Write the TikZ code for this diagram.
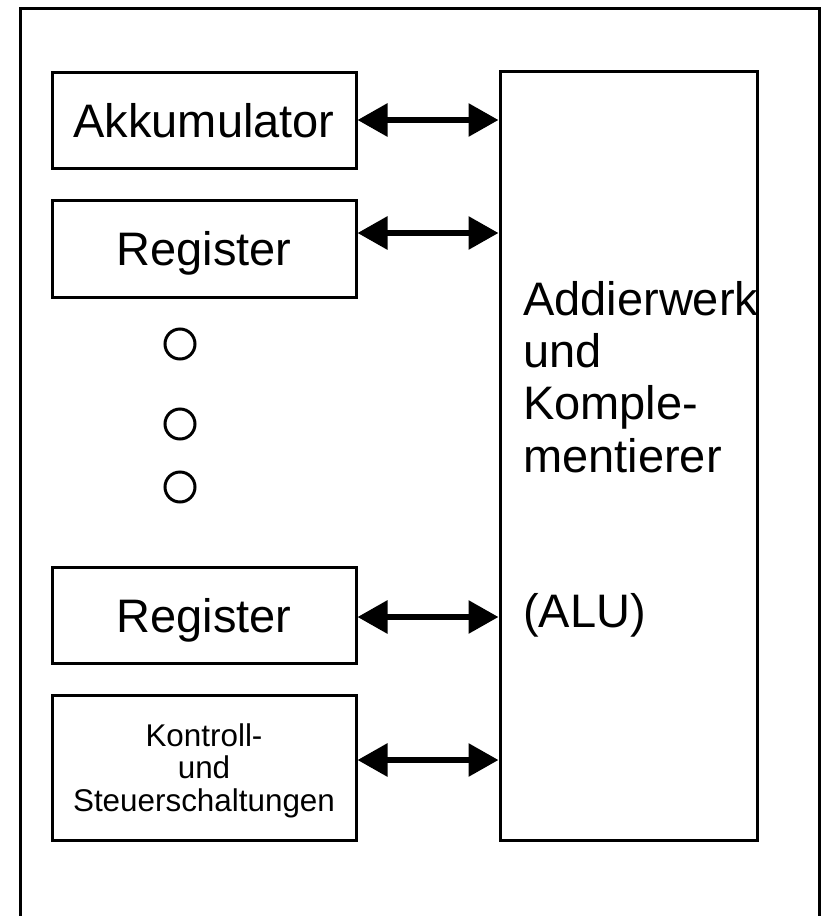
\documentclass[tikz,border=0pt]{standalone}
\usepackage{fontspec}
\setmainfont{Liberation Sans}
\usetikzlibrary{arrows.meta}
\begin{document}
\begin{tikzpicture}[x=1pt,y=-1pt,
  unit/.style={draw, line width=3pt, inner sep=0pt, minimum width=304pt},
  bigtext/.style={font=\fontsize{47}{52.3}\selectfont, text height=34pt, text depth=0pt},
  smalltext/.style={font=\fontsize{31.4}{32.5}\selectfont, align=center, text depth=0pt},
  dot/.style={circle, draw, line width=3pt, minimum size=30pt, inner sep=0pt},
  link/.style={line width=6pt,
    {Triangle[length=30pt,width=32pt]}-{Triangle[length=30pt,width=32pt]}}
]
\useasboundingbox (0,0) rectangle (820,916);

% outer frame (open at the bottom)
\draw[line width=3pt] (20,916) -- (20,8) -- (819.5,8) -- (819.5,916);

% register column
\node[unit, bigtext, minimum height=96pt] (akk)  at (204,120)   {Akkumulator};
\node[unit, bigtext, minimum height=97pt] (reg1) at (204,248.5) {Register};
\node[dot] (d1) at (180,344) {};
\node[dot] (d2) at (180,424) {};
\node[dot] (d3) at (180,487) {};
\node[unit, bigtext, minimum height=96pt] (reg2) at (204,615) {Register};
\node[unit, smalltext, minimum height=145pt] (ctl) at (204,767.5)
  {Kontroll-\\und\\Steuerschaltungen};

% arithmetic unit
\node[draw, line width=3pt, minimum width=257pt, minimum height=769pt, inner sep=0pt]
  (alu) at (628.5,455.5) {};
\node[bigtext, text height=, text depth=, anchor=base west, align=left, inner sep=0pt]
  (alutext) at (523,472) {Addierwerk\\und\\Komple-\\mentierer};
\node[bigtext, anchor=base west, inner sep=0pt] (aluname) at (523,627) {(ALU)};

% data paths
\draw[link] (akk.east) -- (akk.east -| alu.west);
\draw[link] ([yshift=15.5pt]reg1.east) -- ([yshift=15.5pt]reg1.east -| alu.west);
\draw[link] ([yshift=-2pt]reg2.east) -- ([yshift=-2pt]reg2.east -| alu.west);
\draw[link] ([yshift=7.5pt]ctl.east) -- ([yshift=7.5pt]ctl.east -| alu.west);
\end{tikzpicture}
\end{document}
